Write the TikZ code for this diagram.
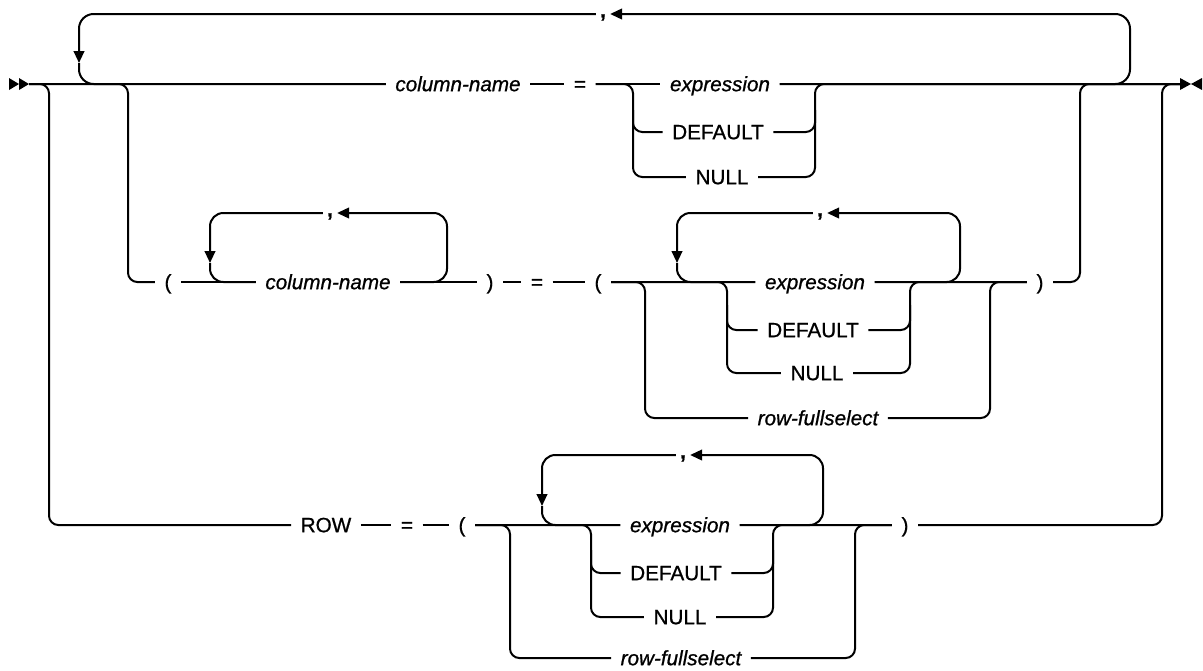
\documentclass[tikz,border=0pt]{standalone}
\usepackage{fontspec}
\setmainfont{Liberation Sans}[FakeBold=0.9]
\usepackage{tikz}
\usetikzlibrary{arrows.meta,calc}
\tikzset{
	rail/.style={
		line width=1.5pt,
		rounded corners=7pt
	},
	loopline/.style={
		rail,
		rounded corners=10pt
	},
	backarr/.style={
		-{Triangle[length=9pt,width=8pt]}
	},
	kw/.style={
		inner xsep=7pt,
		inner ysep=0pt,
		text height=10.8pt,
		text depth=0pt,
		font=\fontsize{15.5pt}{18pt}\selectfont
	},
	var/.style={
		kw,
		font=\fontsize{15.5pt}{18pt}\selectfont\itshape
	},
	sepr/.style={
		inner xsep=3pt,
		inner ysep=0pt,
		text height=5pt,
		text depth=0pt,
		font=\fontsize{15.5pt}{18pt}\selectfont\bfseries
	}
}
\begin{document}
\begin{tikzpicture}[x=0.75pt,y=-0.75pt]
	\useasboundingbox (0,0) rectangle (1203,671);
	
	% --- START AND END MARKS ---
	\coordinate (begin) at (29,84);
	\coordinate (finish) at (1180,84);
	\fill (9,78) -- (19,84) -- (9,90) -- cycle;
	\fill (19,78) -- (29,84) -- (19,90) -- cycle;
	\fill (1180,78) -- (1191,84) -- (1180,90) -- cycle;
	\fill (1202,78) -- (1191,84) -- (1202,90) -- cycle;
	
	% --- ROW 1: column-name = expression ---
	\node[var] (cn1) at (458,84) {column-name};
	\node[kw] (eq1) at (580,84) {=};
	\node[var] (ex1) at (720,84) {expression};
	\node[kw] (df1) at (718,132) {DEFAULT};
	\node[kw] (nu1) at (722,177) {NULL};
	\node[sepr] (cm1) at (603,14) {,};
	
	\coordinate (a1L) at (633,110);
	\coordinate (a1R) at (815,110);
	\coordinate (lpR1) at (1130,50);
	\coordinate (lpL1) at (79,63);
	
	\draw[rail] (begin) -- (cn1.west);
	\draw[rail] (cn1.east) -- (eq1.west);
	\draw[rail] (eq1.east) -- (ex1.west);
	\draw[rail] (ex1.east) -- (finish);
	\draw[rail] (eq1.east) -| (a1L) |- (nu1.west);
	\draw[rail] (a1L) |- (df1.west);
	\draw[rail] (df1.east) -| (a1R);
	\draw[rail] (nu1.east) -| (a1R) |- (finish);
	
	% repeat loop round the whole clause
	\draw[loopline,rounded corners=11pt] (ex1.east) -| (lpR1);
	\draw[loopline,rounded corners=11pt,backarr] (lpR1) |- (cm1.east);
	\draw[loopline,rounded corners=11pt,backarr] (cm1.west) -| (lpL1);
	\draw[loopline,rounded corners=11pt] (lpL1) |- (cn1.west);
	
	% --- ROW 2: ( column-name ) = ( expression ) ---
	\node[kw] (lp2) at (168,282) {(};
	\node[var] (cn2) at (328,282) {column-name};
	\node[kw] (rp2) at (490,282) {)};
	\node[kw] (eq2) at (537,282) {=};
	\node[kw] (lp2b) at (598,282) {(};
	\node[var] (ex2) at (815,282) {expression};
	\node[kw] (df2) at (813,330) {DEFAULT};
	\node[kw] (nu2) at (817,373) {NULL};
	\node[var] (rf2) at (818,418) {row-fullselect};
	\node[kw] (rp2b) at (1040,282) {)};
	\node[sepr] (cm2) at (330,213) {,};
	\node[sepr] (cm2b) at (820,213) {,};
	
	\coordinate (b2) at (128,180);
	\coordinate (b2up) at (1080,180);
	\coordinate (l2R) at (447,250);
	\coordinate (l2L) at (210,263);
	\coordinate (o2L) at (645,350);
	\coordinate (o2R) at (990,350);
	\coordinate (i2L) at (727,305);
	\coordinate (i2R) at (910,305);
	\coordinate (l2bR) at (960,250);
	\coordinate (l2bL) at (677,263);
	
	\draw[rail] (begin) -| (b2) |- (lp2.west);
	\draw[rail] (lp2.east) -- (cn2.west);
	\draw[rail] (cn2.east) -- (rp2.west);
	\draw[rail] (rp2.east) -- (eq2.west);
	\draw[rail] (eq2.east) -- (lp2b.west);
	\draw[rail] (lp2b.east) -- (ex2.west);
	\draw[rail] (ex2.east) -- (rp2b.west);
	\draw[rail] (rp2b.east) -| (b2up) |- (finish);
	
	\draw[loopline] (cn2.east) -| (l2R);
	\draw[loopline,backarr] (l2R) |- (cm2.east);
	\draw[loopline,backarr] (cm2.west) -| (l2L);
	\draw[loopline] (l2L) |- (cn2.west);
	
	\draw[rail] (lp2b.east) -| (o2L) |- (rf2.west);
	\draw[rail] (rf2.east) -| (o2R) |- (rp2b.west);
	\draw[rail] (lp2b.east) -| (i2L) |- (nu2.west);
	\draw[rail] (i2L) |- (df2.west);
	\draw[rail] (df2.east) -| (i2R);
	\draw[rail] (nu2.east) -| (i2R) |- (rp2b.west);
	
	\draw[loopline] (ex2.east) -| (l2bR);
	\draw[loopline,backarr] (l2bR) |- (cm2b.east);
	\draw[loopline,backarr] (cm2b.west) -| (l2bL);
	\draw[loopline] (l2bL) |- (ex2.west);
	
	% --- ROW 3: ROW = ( expression ) ---
	\node[kw] (rw3) at (326,525) {ROW};
	\node[kw] (eq3) at (407,525) {=};
	\node[kw] (lp3) at (462,525) {(};
	\node[var] (ex3) at (680,525) {expression};
	\node[kw] (df3) at (676,573) {DEFAULT};
	\node[kw] (nu3) at (680,617) {NULL};
	\node[var] (rf3) at (681,658) {row-fullselect};
	\node[kw] (rp3) at (905,525) {)};
	\node[sepr] (cm3) at (683,455) {,};
	
	\coordinate (b3) at (49,300);
	\coordinate (b3up) at (1162,300);
	\coordinate (o3L) at (510,590);
	\coordinate (o3R) at (855,590);
	\coordinate (i3L) at (591,550);
	\coordinate (i3R) at (773,550);
	\coordinate (l3R) at (823,495);
	\coordinate (l3L) at (542,506);
	
	\draw[rail] (begin) -| (b3) |- (rw3.west);
	\draw[rail] (rw3.east) -- (eq3.west);
	\draw[rail] (eq3.east) -- (lp3.west);
	\draw[rail] (lp3.east) -- (ex3.west);
	\draw[rail] (ex3.east) -- (rp3.west);
	\draw[rail] (rp3.east) -| (b3up) |- (finish);
	
	\draw[rail] (lp3.east) -| (o3L) |- (rf3.west);
	\draw[rail] (rf3.east) -| (o3R) |- (rp3.west);
	\draw[rail] (lp3.east) -| (i3L) |- (nu3.west);
	\draw[rail] (i3L) |- (df3.west);
	\draw[rail] (df3.east) -| (i3R);
	\draw[rail] (nu3.east) -| (i3R) |- (rp3.west);
	
	\draw[loopline] (ex3.east) -| (l3R);
	\draw[loopline,backarr] (l3R) |- (cm3.east);
	\draw[loopline,backarr] (cm3.west) -| (l3L);
	\draw[loopline] (l3L) |- (ex3.west);
	
\end{tikzpicture}
\end{document}
